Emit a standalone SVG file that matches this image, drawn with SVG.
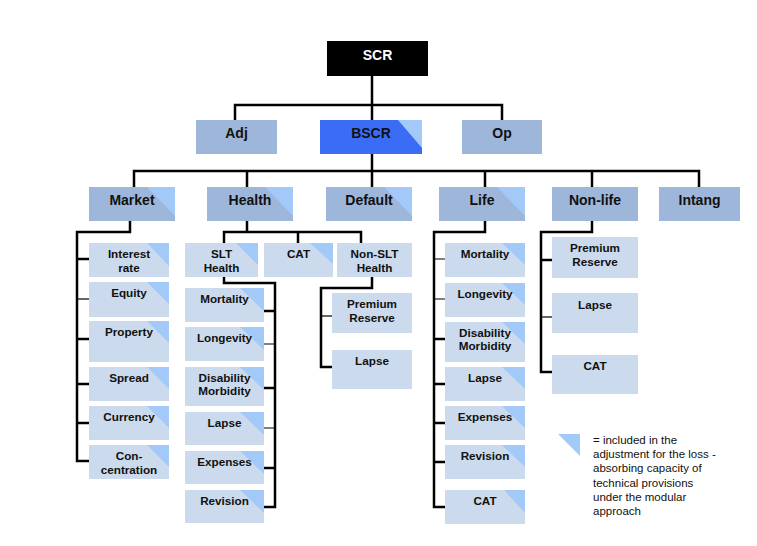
<svg xmlns="http://www.w3.org/2000/svg" width="757" height="546" viewBox="0 0 757 546">
<style>
text{font-family:"Liberation Sans",Arial,sans-serif;fill:#111;text-anchor:middle}
.t1{font-size:14px;font-weight:bold}
.t2{font-size:11.7px;font-weight:bold}
.lg{font-size:11.5px;text-anchor:start}
.mid{fill:#9db6da}
.lt{fill:#cbdaed}
.tri{fill:#a2c9f7}
.ln{fill:none;stroke:#000;stroke-width:2.5}
.thin{fill:none;stroke:#000;stroke-width:1.2}
</style>
<rect width="757" height="546" fill="#fff"/>
<g id="connectors">
<path class="ln" d="M372 76V120M235 120V105H502V120"/>
<path class="ln" d="M372 154V187M134 187V171H699V187M247 171V187M485 171V187M592 171V187"/>
<path class="ln" d="M130 221V232H77V461H89M77 259H89M77 339H89M77 384H89M77 423H89"/>
<path class="thin" d="M77 299H89"/>
<path class="ln" d="M247 221V232M224 243V232H361V243M298 232V243"/>
<path class="ln" d="M224 277V283H275V507H264M264 311H275M264 388H275M264 468H275"/>
<path class="thin" d="M264 344H275M264 428H275"/>
<path class="ln" d="M372 277V288H321V367H332"/>
<path class="thin" d="M321 316H332"/>
<path class="ln" d="M485 221V232H434V507H445M434 339H445M434 384H445M434 423H445M434 462H445"/>
<path class="thin" d="M434 259H445M434 299H445"/>
<path class="ln" d="M592 221V232H541V372H552M541 260H552"/>
<path class="thin" d="M541 317H552"/>
</g>
<g id="scr"><rect x="327" y="41" width="101" height="35" fill="#000"/><text class="t1" x="377.5" y="59.5" style="fill:#fff">SCR</text></g>
<g id="adj"><rect class="mid" x="196" y="120" width="81" height="34"/><text class="t1" x="236.5" y="138">Adj</text></g>
<g id="bscr"><rect x="320" y="120" width="102" height="34" fill="#3a6cf6"/><polygon class="tri" points="398,120 422,120 422,148"/><text class="t1" x="371" y="138">BSCR</text></g>
<g id="op"><rect class="mid" x="462" y="120" width="80" height="34"/><text class="t1" x="502" y="138">Op</text></g>
<g id="market"><rect class="mid" x="89" y="187" width="86" height="34"/><polygon class="tri" points="147,187 175,187 175,216"/><text class="t1" x="132" y="205">Market</text></g>
<g id="health"><rect class="mid" x="207" y="187" width="86" height="34"/><polygon class="tri" points="265,187 293,187 293,216"/><text class="t1" x="250" y="205">Health</text></g>
<g id="default"><rect class="mid" x="326" y="187" width="86" height="34"/><polygon class="tri" points="384,187 412,187 412,216"/><text class="t1" x="369" y="205">Default</text></g>
<g id="life"><rect class="mid" x="439" y="187" width="86" height="34"/><polygon class="tri" points="497,187 525,187 525,216"/><text class="t1" x="482" y="205">Life</text></g>
<g id="nonlife"><rect class="mid" x="552" y="187" width="86" height="34"/><text class="t1" x="595" y="205">Non-life</text></g>
<g id="intang"><rect class="mid" x="659" y="187" width="81" height="34"/><text class="t1" x="699.5" y="205">Intang</text></g>
<g id="m-interest"><rect class="lt" x="89" y="243" width="80" height="34"/><polygon class="tri" points="147,243 169,243 169,266"/><text class="t2" x="129" y="258">Interest</text><text class="t2" x="129" y="271.5">rate</text></g>
<g id="m-equity"><rect class="lt" x="89" y="282" width="80" height="35"/><polygon class="tri" points="147,282 169,282 169,304"/><text class="t2" x="129" y="297">Equity</text></g>
<g id="m-property"><rect class="lt" x="89" y="321" width="80" height="41"/><polygon class="tri" points="147,321 169,321 169,343"/><text class="t2" x="129" y="336">Property</text></g>
<g id="m-spread"><rect class="lt" x="89" y="367" width="80" height="34"/><polygon class="tri" points="147,367 169,367 169,389"/><text class="t2" x="129" y="382">Spread</text></g>
<g id="m-currency"><rect class="lt" x="89" y="406" width="80" height="34"/><polygon class="tri" points="147,406 169,406 169,428"/><text class="t2" x="129" y="421">Currency</text></g>
<g id="m-concentration"><rect class="lt" x="89" y="445" width="80" height="34"/><polygon class="tri" points="147,445 169,445 169,467"/><text class="t2" x="129" y="460">Con-</text><text class="t2" x="129" y="473.5">centration</text></g>
<g id="h-slt"><rect class="lt" x="185" y="243" width="73" height="34"/><polygon class="tri" points="236,243 258,243 258,265"/><text class="t2" x="221.5" y="258">SLT</text><text class="t2" x="221.5" y="271.5">Health</text></g>
<g id="h-cat"><rect class="lt" x="264" y="243" width="69" height="34"/><polygon class="tri" points="310,243 333,243 333,264"/><text class="t2" x="298.5" y="258">CAT</text></g>
<g id="h-nonslt"><rect class="lt" x="337" y="243" width="75" height="34"/><text class="t2" x="374.5" y="258">Non-SLT</text><text class="t2" x="374.5" y="271.5">Health</text></g>
<g id="s-mortality"><rect class="lt" x="185" y="288" width="79" height="34"/><polygon class="tri" points="240,288 264,288 264,311"/><text class="t2" x="224.5" y="303">Mortality</text></g>
<g id="s-longevity"><rect class="lt" x="185" y="327" width="79" height="34"/><polygon class="tri" points="240,327 264,327 264,350"/><text class="t2" x="224.5" y="342">Longevity</text></g>
<g id="s-disability"><rect class="lt" x="185" y="367" width="79" height="39"/><polygon class="tri" points="240,367 264,367 264,390"/><text class="t2" x="224.5" y="381.5">Disability</text><text class="t2" x="224.5" y="395">Morbidity</text></g>
<g id="s-lapse"><rect class="lt" x="185" y="412" width="79" height="33"/><polygon class="tri" points="240,412 264,412 264,435"/><text class="t2" x="224.5" y="427">Lapse</text></g>
<g id="s-expenses"><rect class="lt" x="185" y="451" width="79" height="33"/><polygon class="tri" points="240,451 264,451 264,474"/><text class="t2" x="224.5" y="466">Expenses</text></g>
<g id="s-revision"><rect class="lt" x="185" y="490" width="79" height="33"/><polygon class="tri" points="240,490 264,490 264,513"/><text class="t2" x="224.5" y="505">Revision</text></g>
<g id="n-premium"><rect class="lt" x="332" y="293" width="80" height="40"/><text class="t2" x="372" y="308">Premium</text><text class="t2" x="372" y="321.5">Reserve</text></g>
<g id="n-lapse"><rect class="lt" x="332" y="350" width="80" height="39"/><text class="t2" x="372" y="365">Lapse</text></g>
<g id="l-mortality"><rect class="lt" x="445" y="243" width="80" height="34"/><polygon class="tri" points="502,243 525,243 525,265"/><text class="t2" x="485" y="258">Mortality</text></g>
<g id="l-longevity"><rect class="lt" x="445" y="283" width="80" height="34"/><polygon class="tri" points="502,283 525,283 525,305"/><text class="t2" x="485" y="298">Longevity</text></g>
<g id="l-disability"><rect class="lt" x="445" y="322" width="80" height="40"/><polygon class="tri" points="502,322 525,322 525,344"/><text class="t2" x="485" y="336.5">Disability</text><text class="t2" x="485" y="350">Morbidity</text></g>
<g id="l-lapse"><rect class="lt" x="445" y="367" width="80" height="34"/><polygon class="tri" points="502,367 525,367 525,389"/><text class="t2" x="485" y="382">Lapse</text></g>
<g id="l-expenses"><rect class="lt" x="445" y="406" width="80" height="34"/><polygon class="tri" points="502,406 525,406 525,428"/><text class="t2" x="485" y="421">Expenses</text></g>
<g id="l-revision"><rect class="lt" x="445" y="445" width="80" height="34"/><polygon class="tri" points="502,445 525,445 525,467"/><text class="t2" x="485" y="460">Revision</text></g>
<g id="l-cat"><rect class="lt" x="445" y="490" width="80" height="34"/><polygon class="tri" points="504,490 525,490 525,513"/><text class="t2" x="485" y="505">CAT</text></g>
<g id="nl-premium"><rect class="lt" x="552" y="237" width="86" height="41"/><text class="t2" x="595" y="252">Premium</text><text class="t2" x="595" y="266">Reserve</text></g>
<g id="nl-lapse"><rect class="lt" x="552" y="293" width="86" height="40"/><text class="t2" x="595" y="309">Lapse</text></g>
<g id="nl-cat"><rect class="lt" x="552" y="355" width="86" height="39"/><text class="t2" x="595" y="370">CAT</text></g>
<g id="legend"><polygon class="tri" points="558,434 580,434 580,456"/>
<text class="lg" x="593" y="444">= included in the</text>
<text class="lg" x="593" y="458.2">adjustment for the loss -</text>
<text class="lg" x="593" y="472.4">absorbing capacity of</text>
<text class="lg" x="593" y="486.6">technical provisions</text>
<text class="lg" x="593" y="500.8">under the modular</text>
<text class="lg" x="593" y="515">approach</text></g>
</svg>
